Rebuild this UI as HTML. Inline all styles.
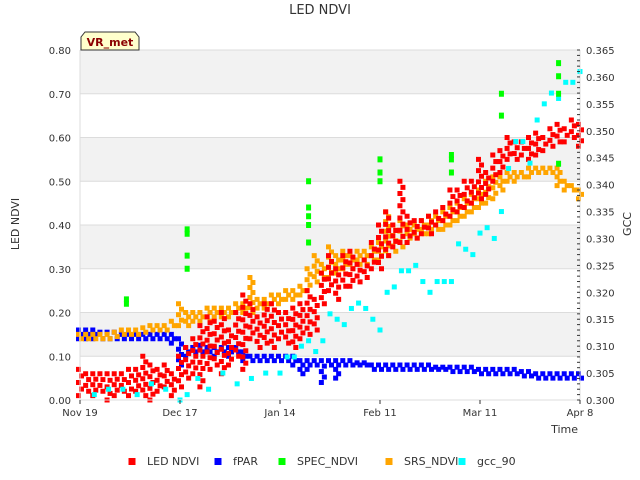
<!DOCTYPE html>
<html><head><meta charset="utf-8"><style>
body{margin:0;background:#fff;}
svg{display:block;font-family:"DejaVu Sans","Liberation Sans",sans-serif;}
</style></head><body>
<svg id="chart" width="640" height="480" viewBox="0 0 640 480">
<rect width="640" height="480" fill="#fff"/>
<g id="bands"></g><g id="marks"></g><g id="axes"></g>
<text x="320" y="14" text-anchor="middle" font-size="13" fill="#333">LED NDVI</text>
<text transform="translate(19,224) rotate(-90)" text-anchor="middle" font-size="11" fill="#333">LED NDVI</text>
<text transform="translate(631,224) rotate(-90)" text-anchor="middle" font-size="11" fill="#333">GCC</text>
<text x="578" y="433" text-anchor="end" font-size="11" fill="#333">Time</text>
<g>
<path d="M81,50 L81,37 L85,32 L135,32 L139,37 L139,50 Z" fill="#ffffcc" stroke="#333"/>
<text x="110" y="46" text-anchor="middle" font-size="11" font-weight="bold" fill="#8b0000">VR_met</text>
</g>
<g id="legend"></g>
</svg>
<script>
const days=[0,2,4,6,8,10,12,14,16,18,20,22,24,26,28,30,32,34,36,38,40,42,44,46,48,50,52,54,56,58,60,62,64,66,68,70,72,74,76,78,80,82,84,86,88,90,92,94,96,98,100,102,104,106,108,110,112,114,116,118,120,122,124,126,128,130,132,134,136,138,140];
const ledLo=[.01,.02,.01,.02,.00,.01,.02,.01,.02,.01,.00,.02,.03,.01,.03,.05,.06,.03,.07,.08,.06,.08,.10,.07,.14,.12,.13,.12,.14,.13,.12,.14,.15,.16,.22,.25,.23,.26,.26,.27,.28,.30,.30,.33,.35,.36,.36,.37,.38,.38,.40,.41,.42,.43,.44,.45,.46,.47,.50,.52,.55,.55,.56,.55,.56,.57,.58,.59,.59,.60,.58];
const ledHi=[.07,.06,.06,.06,.06,.06,.06,.07,.07,.10,.08,.07,.08,.06,.10,.12,.14,.17,.19,.18,.20,.16,.20,.24,.22,.19,.22,.22,.20,.20,.21,.22,.25,.23,.29,.33,.30,.33,.34,.31,.32,.36,.40,.43,.40,.50,.42,.41,.41,.42,.43,.44,.48,.48,.50,.50,.55,.52,.56,.57,.60,.59,.59,.60,.61,.60,.62,.63,.62,.64,.63];
const fparLo=[.14,.14,.14,.14,.14,.14,.14,.14,.14,.14,.14,.14,.14,.13,.08,.10,.11,.11,.11,.10,.11,.10,.11,.09,.09,.09,.09,.09,.09,.09,.08,.06,.07,.08,.04,.08,.05,.08,.08,.08,.08,.07,.07,.07,.07,.07,.07,.07,.07,.07,.07,.07,.065,.065,.065,.065,.06,.06,.06,.06,.06,.06,.055,.055,.05,.05,.05,.05,.05,.05,.05];
const fparHi=[.16,.16,.16,.155,.155,.155,.15,.15,.15,.15,.15,.15,.15,.15,.14,.12,.12,.125,.12,.12,.12,.12,.12,.11,.10,.10,.10,.10,.10,.10,.10,.09,.09,.09,.09,.09,.09,.09,.09,.085,.085,.08,.08,.08,.08,.08,.08,.08,.08,.08,.075,.075,.075,.075,.075,.075,.07,.07,.07,.07,.07,.07,.065,.065,.06,.06,.06,.06,.06,.06,.06];
const srsLo=[.14,.14,.14,.14,.14,.145,.15,.15,.15,.155,.16,.16,.16,.17,.17,.17,.18,.18,.18,.19,.19,.19,.20,.20,.20,.21,.21,.22,.22,.23,.23,.24,.25,.27,.28,.28,.29,.30,.30,.31,.31,.32,.32,.33,.34,.35,.36,.37,.38,.38,.39,.39,.40,.41,.42,.43,.44,.45,.46,.48,.50,.50,.51,.51,.52,.52,.52,.49,.48,.48,.46];
const srsHi=[.15,.15,.15,.15,.15,.155,.16,.16,.16,.165,.17,.17,.17,.18,.22,.20,.20,.20,.21,.21,.21,.21,.22,.22,.28,.23,.23,.24,.24,.25,.25,.26,.30,.33,.31,.35,.33,.34,.33,.34,.34,.35,.36,.43,.40,.41,.40,.40,.41,.42,.42,.43,.44,.45,.46,.47,.48,.50,.51,.51,.52,.52,.52,.53,.53,.53,.53,.53,.50,.49,.48];
const gccDays=[4,8,12,16,20,24,28,30,33,36,40,44,48,52,56,58,60,62,64,66,68,70,72,74,76,78,80,82,84,86,88,90,92,94,96,98,100,102,104,106,108,110,112,114,116,118,120,122,124,126,128,130,132,134,136,138,140];
const gccVals=[.301,.302,.302,.301,.303,.302,.300,.301,.304,.302,.305,.303,.304,.305,.305,.308,.308,.310,.311,.309,.311,.316,.315,.314,.317,.318,.317,.315,.313,.320,.321,.324,.324,.325,.322,.320,.322,.322,.322,.329,.328,.327,.331,.332,.330,.335,.343,.348,.348,.344,.352,.355,.357,.356,.359,.359,.361];
const specDays=[13,13,30,30,30,30,64,64,64,64,64,84,84,84,104,104,104,118,118,134,134,134,134];
const specVals=[.22,.23,.39,.38,.33,.30,.50,.44,.42,.40,.36,.55,.52,.50,.56,.55,.52,.70,.65,.77,.74,.70,.54];
const yTicks=[0,.1,.2,.3,.4,.5,.6,.7,.8];
const y2Ticks=[.300,.305,.310,.315,.320,.325,.330,.335,.340,.345,.350,.355,.360,.365];
const xTickDays=[0,28,56,84,112,140];
const xTickLabels=["Nov 19","Dec 17","Jan 14","Feb 11","Mar 11","Apr 8"];

const X0=80,X1=580,Y0=400,Y1=50;
const xs=d=>X0+d*(X1-X0)/140;
const ys=v=>Y0-v*(Y0-Y1)/0.8;
const ys2=v=>Y0-(v-0.300)*(Y0-Y1)/0.065;
const NS="http://www.w3.org/2000/svg";
function mk(tag,attrs,parent){const e=document.createElementNS(NS,tag);for(const k in attrs)e.setAttribute(k,attrs[k]);parent.appendChild(e);return e;}
const bands=document.getElementById('bands'),marks=document.getElementById('marks'),axes=document.getElementById('axes'),legend=document.getElementById('legend');
for(let i=0;i<8;i++){
  const r=mk('rect',{x:X0,y:ys(yTicks[i+1]),width:X1-X0,height:ys(yTicks[i])-ys(yTicks[i+1]),fill:(i%2==1)?'#f2f2f2':'#fff'},bands);
  
  
}
yTicks.forEach(v=>{
  mk('line',{x1:X0,x2:X1,y1:ys(v),y2:ys(v),stroke:'#dcdcdc','stroke-width':1},bands);
  const t=mk('text',{x:71,y:ys(v)+4,'text-anchor':'end','font-size':10,fill:'#333'},axes);
  t.textContent=v.toFixed(2);
  
  
});
mk('line',{x1:X0,x2:X0,y1:Y1,y2:Y0,stroke:'#dcdcdc'},axes);
mk('line',{x1:X0,x2:X1,y1:Y0,y2:Y0,stroke:'#dcdcdc'},axes);
mk('line',{x1:X1,x2:X1,y1:Y1,y2:Y0,stroke:'#dcdcdc'},axes);
for(let k=0;k<=65;k++){const y=Y0-k*(Y0-Y1)/65;mk('line',{x1:X1-3,x2:X1,y1:y,y2:y,stroke:'#333'},axes);}
y2Ticks.forEach(v=>{
  const t=mk('text',{x:586,y:ys2(v)+4,'font-size':10,fill:'#333'},axes);
  t.textContent=v.toFixed(3);
  
  
});
xTickDays.forEach((d,i)=>{
  mk('line',{x1:xs(d),x2:xs(d),y1:Y0,y2:Y0+4,stroke:'#333'},axes);
  const t=mk('text',{x:xs(d),y:416,'text-anchor':'middle','font-size':10,fill:'#333'},axes);
  t.textContent=xTickLabels[i];
  
  
});
function pts(lo,hi,color,name,step){
  days.forEach((d,i)=>{
    const a=ys(hi[i]),b=ys(lo[i]);
    const x=xs(d);
    const n=Math.max(1,Math.round((b-a)/step));
    for(let k=0;k<=n;k++){
      const y=a+(b-a)*k/n;
      const off=(k%2?1.5:-1.5);
      const r=mk('rect',{x:x+off-2.5,y:y-2.5,width:5,height:5,fill:color},marks);
      
      
    }
  });
}
pts(fparLo,fparHi,'#0000ff','fpar-point',5);
pts(srsLo,srsHi,'#ffa500','srs-ndvi-point',5);
pts(ledLo,ledHi,'#ff0000','led-ndvi-point',6);
gccDays.forEach((d,i)=>{
  const r=mk('rect',{x:xs(d)-2.5,y:ys2(gccVals[i])-2.5,width:5,height:5,fill:'#00ffff'},marks);
  
  
});
specDays.forEach((d,i)=>{
  const r=mk('rect',{x:xs(d)-2.5,y:ys(specVals[i])-3,width:5,height:6,fill:'#00ff00'},marks);
  
  
});
const legNames=["LED NDVI","fPAR","SPEC_NDVI","SRS_NDVI","gcc_90"];
const legColors=["#ff0000","#0000ff","#00ff00","#ffa500","#00ffff"];
const legX=[132,218,282,389,462];
legNames.forEach((n,i)=>{
  const g=mk('g',{},legend);
  
  
  mk('rect',{x:legX[i]-3.5,y:458,width:7,height:7,fill:legColors[i]},g);
  const t=mk('text',{x:legX[i]+15,y:465,'font-size':11,fill:'#333'},g);
  t.textContent=n;
});
</script>
</body></html>
